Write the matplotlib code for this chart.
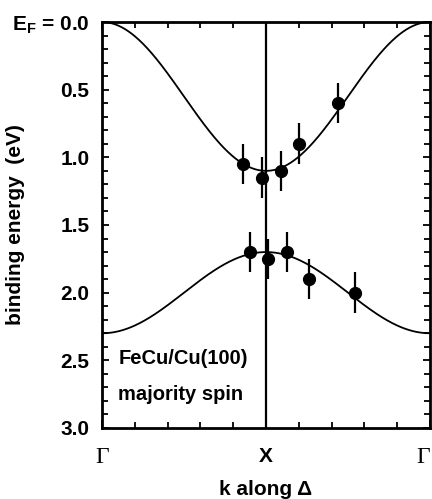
import numpy as np
import matplotlib
matplotlib.use("Agg")
import matplotlib.pyplot as plt
from matplotlib.ticker import MultipleLocator

# band edges (eV) at Gamma and X
upper_gamma, upper_x = 0.0, 1.1
lower_gamma, lower_x = 2.3, 1.7

# measured points (k in units of Gamma-X-Gamma path, 0..1)
up_k = [0.43, 0.488, 0.545, 0.60, 0.72]
up_e = [1.05, 1.15, 1.10, 0.90, 0.60]
up_err = [0.15, 0.15, 0.15, 0.15, 0.15]

lo_k = [0.45, 0.506, 0.565, 0.632, 0.77]
lo_e = [1.70, 1.75, 1.70, 1.90, 2.00]
lo_err = [0.15, 0.15, 0.15, 0.15, 0.15]

plt.rcParams['font.family'] = ['Liberation Sans', 'DejaVu Sans']
plt.rcParams['font.weight'] = 'bold'

fig = plt.figure(figsize=(4.32, 4.99), dpi=100)
ax = fig.add_axes([102/432, 1 - 428/499, 328/432, 406/499])

k = np.linspace(0, 1, 400)
shape = (1 - np.cos(2 * np.pi * k)) / 2
ax.plot(k, upper_gamma + (upper_x - upper_gamma) * shape, color='black', lw=1.3)
ax.plot(k, lower_gamma + (lower_x - lower_gamma) * shape, color='black', lw=1.3)
ax.axvline(0.5, color='black', lw=1.6)

ax.errorbar(up_k, up_e, yerr=up_err, fmt='o', color='black', ms=8.5,
            elinewidth=1.6, capsize=0)
ax.errorbar(lo_k, lo_e, yerr=lo_err, fmt='o', color='black', ms=8.5,
            elinewidth=1.6, capsize=0)

ax.set_xlim(0, 1)
ax.set_ylim(3.0, 0.0)

ax.yaxis.set_minor_locator(MultipleLocator(0.1))
ax.set_yticks([0, 0.5, 1.0, 1.5, 2.0, 2.5, 3.0])
ax.set_yticklabels([r'E$_\mathregular{F}$ = 0.0', '0.5', '1.0', '1.5', '2.0', '2.5', '3.0'],
                   fontsize=15, fontweight='bold')

ax.set_xticks([0, 0.5, 1.0])
ax.xaxis.set_minor_locator(MultipleLocator(0.1))
ax.set_xticklabels(['\u0393', 'X', '\u0393'], fontsize=15)
labels = ax.get_xticklabels()
for i in (0, 2):
    labels[i].set_family('Liberation Serif')
    labels[i].set_fontweight('normal')
    labels[i].set_fontsize(17)
labels[2].set_horizontalalignment('right')
labels[1].set_fontweight('bold')

ax.tick_params(which='both', direction='in', top=True, right=True, width=1.3)
ax.tick_params(which='major', length=6)
ax.tick_params(which='minor', length=4)
ax.tick_params(axis='x', which='major', pad=14)
ax.tick_params(axis='y', which='major', length=5, pad=9)
for s in ax.spines.values():
    s.set_linewidth(2)

ax.set_ylabel('binding energy  (eV)', fontsize=15, fontweight='bold')
ax.yaxis.set_label_coords(-0.235, 0.5)
ax.set_xlabel('k along \u0394', fontsize=15, fontweight='bold', va='top')
ax.xaxis.set_label_coords(0.5, -0.128)

ax.text(0.05, 2.49, 'FeCu/Cu(100)', fontsize=14.5, fontweight='bold', va='center')
ax.text(0.05, 2.75, 'majority spin', fontsize=14.5, fontweight='bold', va='center')

fig.savefig('out.png', dpi=100)
